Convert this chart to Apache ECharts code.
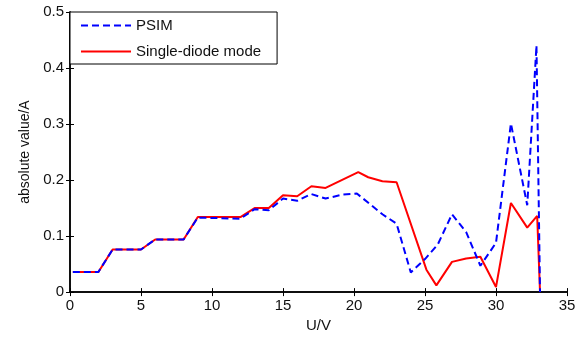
<!DOCTYPE html>
<html>
<head>
    <meta charset="utf-8">
    <title>PSIM vs single-diode</title>
    <script src="https://cdn.jsdelivr.net/npm/echarts@6/dist/echarts.min.js"></script>
    <style>
        html, body { margin: 0; padding: 0; background: #fff; }
        #chart { width: 581px; height: 338px; }
    </style>
</head>
<body>
<div id="chart"></div>
<script type="text/javascript">
    // values
    var psimU  = [0.2, 2, 3, 5, 6, 8, 9, 12, 13, 14, 15, 16, 17, 18, 19.2, 20.2, 22, 23, 24, 25, 25.9, 26.9, 27.9, 28.9, 30, 31.05, 32.2, 32.85, 33.1];
    var psimI  = [0.036, 0.036, 0.076, 0.076, 0.094, 0.094, 0.133, 0.131, 0.148, 0.146, 0.167, 0.163, 0.175, 0.167, 0.174, 0.176, 0.139, 0.122, 0.035, 0.059, 0.085, 0.139, 0.107, 0.047, 0.088, 0.301, 0.155, 0.44, 0.0];
    var diodeU = [0.2, 2, 3, 5, 6, 8, 9, 12, 13, 14, 15, 16, 17, 18, 20.3, 21, 22, 23, 25.1, 25.8, 26.9, 27.9, 28.9, 30, 31.05, 32.2, 32.9, 33.1];
    var diodeI = [0.036, 0.036, 0.076, 0.076, 0.094, 0.094, 0.134, 0.134, 0.150, 0.150, 0.173, 0.171, 0.189, 0.186, 0.214, 0.205, 0.198, 0.196, 0.040, 0.012, 0.054, 0.060, 0.063, 0.009, 0.159, 0.115, 0.136, 0.0];

    function pairs(xs, ys) {
        var out = [];
        for (var i = 0; i < xs.length; i++) out.push([xs[i], ys[i]]);
        return out;
    }

    var font = 'Liberation Sans, Arial, sans-serif';
    var black = '#000';

    var myChart = echarts.init(document.getElementById('chart'));
    myChart.setOption({
        animation: false,
        backgroundColor: '#fff',
        grid: { left: 70, right: 14, top: 12, bottom: 45 },
        legend: {
            left: 70, top: 12,
            orient: 'vertical',
            backgroundColor: '#fff',
            borderColor: black, borderWidth: 1,
            padding: [6, 16, 5, 10],
            itemWidth: 50, itemHeight: 14, itemGap: 11,
            itemStyle: { opacity: 0 },   // hide the dot, keep the line
            textStyle: { fontFamily: font, fontSize: 15, color: '#111' },
            data: ['PSIM', 'Single-diode mode']
        },
        xAxis: [{
            type: 'value', min: 0, max: 35, interval: 5,
            name: 'U/V', nameLocation: 'middle', nameGap: 24,
            nameTextStyle: { fontFamily: font, fontSize: 15, color: '#111' },
            axisLine: { lineStyle: { color: black, width: 1.5 } },
            axisTick: { inside: true, length: 4, lineStyle: { color: black } },
            axisLabel: { fontFamily: font, fontSize: 15, color: '#111', margin: 6 },
            splitLine: { show: false }
        }, {
            type: 'value', min: 0, max: 35, interval: 5, position: 'top',
            axisLine: { lineStyle: { color: black, width: 1.5 } },
            axisTick: { inside: true, length: 4, lineStyle: { color: black } },
            axisLabel: { show: false },
            splitLine: { show: false }
        }],
        yAxis: [{
            type: 'value', min: 0, max: 0.5, interval: 0.1,
            name: 'absolute value/A', nameLocation: 'middle', nameGap: 38,
            nameTextStyle: { fontFamily: font, fontSize: 14, color: '#111' },
            axisLine: { show: true, lineStyle: { color: black, width: 1.5 } },
            axisTick: { show: true, inside: true, length: 4, lineStyle: { color: black } },
            axisLabel: { fontFamily: font, fontSize: 15, color: '#111', margin: 6 },
            splitLine: { show: false }
        }, {
            type: 'value', min: 0, max: 0.5, interval: 0.1, position: 'right',
            axisLine: { show: true, lineStyle: { color: black, width: 1.5 } },
            axisTick: { show: true, inside: true, length: 4, lineStyle: { color: black } },
            axisLabel: { show: false },
            splitLine: { show: false }
        }],
        series: [
            {
                name: 'PSIM',
                type: 'line',
                symbol: 'none',
                z: 3,
                color: '#0000ff',
                lineStyle: { color: '#0000ff', width: 2, type: [7, 4] },
                data: pairs(psimU, psimI)
            },
            {
                name: 'Single-diode mode',
                type: 'line',
                symbol: 'none',
                z: 2,
                color: '#ff0000',
                lineStyle: { color: '#ff0000', width: 2 },
                data: pairs(diodeU, diodeI)
            }
        ]
    });
</script>
</body>
</html>
